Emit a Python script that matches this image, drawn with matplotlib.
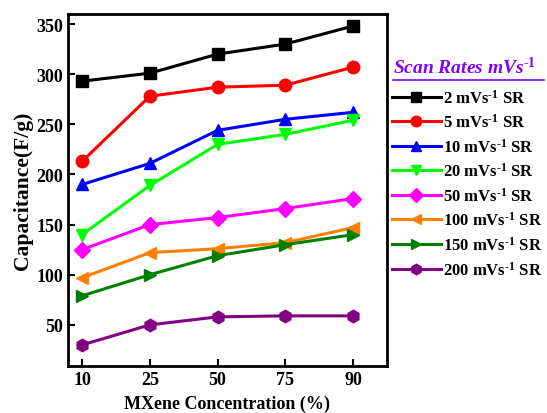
import matplotlib
matplotlib.use('Agg')
import matplotlib.pyplot as plt
from matplotlib.lines import Line2D

plt.rcParams['font.family'] = ['Liberation Serif', 'DejaVu Serif']
plt.rcParams['font.weight'] = 'bold'
plt.rcParams['mathtext.fontset'] = 'custom'
plt.rcParams['mathtext.rm'] = 'Liberation Serif:bold'
plt.rcParams['mathtext.bf'] = 'Liberation Serif:bold'
plt.rcParams['mathtext.it'] = 'Liberation Serif:italic:bold'
plt.rcParams['mathtext.bfit'] = 'Liberation Serif:italic:bold'

concentrations = ['10', '25', '50', '75', '90']
scan_rates = ['2', '5', '10', '20', '50', '100', '150', '200']

sr_2 = [293, 301, 320, 330, 348]
sr_5 = [213, 278, 287, 289, 307]
sr_10 = [190, 211, 244, 255, 262]
sr_20 = [140, 189, 230, 240, 254]
sr_50 = [125, 150, 157, 166, 176]
sr_100 = [97, 122, 126, 132, 147]
sr_150 = [79, 100, 119, 130, 140]
sr_200 = [30, 50, 58, 59, 59]

series = [sr_2, sr_5, sr_10, sr_20, sr_50, sr_100, sr_150, sr_200]
colors = ['#000000', '#FF0000', '#0000FF', '#00FF00', '#FF00FF', '#FF8000', '#008000', '#800080']
markers = ['s', 'o', '^', 'v', 'D', '<', '>', 'h']

fig = plt.figure(figsize=(5.47, 4.14), dpi=100)
ax = fig.add_axes([0.124, 0.1135, 0.5835, 0.8503])

x = list(range(len(concentrations)))
handles = []
for vals, c, m, sr in zip(series, colors, markers, scan_rates):
    ms = 8 if m == 'D' else 9
    h, = ax.plot(x, vals, color=c, marker=m, markersize=ms, linewidth=2.2,
                 label=sr + r' mVs$^{\text{-1}}$ SR')
    handles.append(h)

ax.set_xlim(-0.21, 4.5)
ax.set_ylim(9, 360)
ax.set_xticks(x)
ax.set_xticklabels(concentrations)
ax.set_yticks([50, 100, 150, 200, 250, 300, 350])
ax.tick_params(direction='in', length=5, width=1.5, labelsize=13)
for lab in ax.get_xticklabels() + ax.get_yticklabels():
    lab.set_fontweight('bold')
for sp in ax.spines.values():
    sp.set_linewidth(2)

ax.set_xlabel('MXene Concentration (%)', fontsize=13, fontweight='bold', labelpad=5)
ax.set_ylabel('Capacitance(F/g)', fontsize=15.5, fontweight='bold', labelpad=2)

# legend title with underline
title_color = '#8000FF'
fig.text(0.719, 0.838, r'Scan Rates mVs$^{\text{-1}}$', color=title_color,
         fontsize=14, fontweight='bold', fontstyle='italic', ha='left', va='center')
fig.add_artist(Line2D([0.719, 0.995], [0.805, 0.805], color=title_color, linewidth=1.2,
                      transform=fig.transFigure))

leg = fig.legend(handles=handles, loc='upper left', bbox_to_anchor=(0.705, 0.80),
                 frameon=False, fontsize=12, handlelength=2.9, handletextpad=0.15,
                 labelspacing=0.4, borderaxespad=0, markerscale=0.85)
for t in leg.get_texts():
    t.set_fontweight('bold')

fig.savefig('out.png', dpi=100)
